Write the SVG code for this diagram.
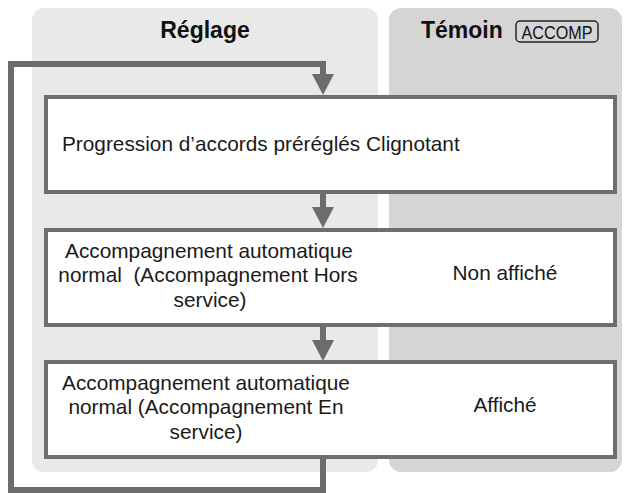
<svg xmlns="http://www.w3.org/2000/svg" width="626" height="493" viewBox="0 0 626 493">
<style>
.panelL{fill:#e9e9e9}
.panelR{fill:#d5d5d5}
.box{fill:#ffffff;stroke:#6e6e6e;stroke-width:4}
.t{font-family:"Liberation Sans",Arial,sans-serif;font-size:20.8px;fill:#1a1a1a}
.h{font-family:"Liberation Sans",Arial,sans-serif;font-size:23px;font-weight:bold;fill:#111}
.line{fill:none;stroke:#6c6c6c;stroke-width:6}
.head{fill:#6c6c6c}
</style>
<rect width="626" height="493" fill="#ffffff"/>
<g id="panel-reglage">
<rect class="panelL" x="32" y="8" width="346" height="464" rx="12"/>
<text class="h" x="205" y="38" text-anchor="middle">Réglage</text>
</g>
<g id="panel-temoin">
<rect class="panelR" x="389" y="8" width="233" height="464" rx="12"/>
<text class="h" x="421" y="38">Témoin</text>
<rect x="516" y="21" width="82" height="21" rx="4" fill="none" stroke="#222" stroke-width="1.5"/>
<text x="557" y="39" text-anchor="middle" font-family="Liberation Sans,Arial,sans-serif" font-size="19" fill="#111" textLength="71" lengthAdjust="spacingAndGlyphs">ACCOMP</text>
</g>
<g id="connectors">
<polyline class="line" points="323,457 323,490 11,490 11,64 323,64 323,76"/>
<polygon class="head" points="312,74 334,74 323,95"/>
<line class="line" x1="323" y1="193" x2="323" y2="209"/>
<polygon class="head" points="312,207 334,207 323,228"/>
<line class="line" x1="323" y1="326" x2="323" y2="342"/>
<polygon class="head" points="312,340 334,340 323,361"/>
</g>
<g id="node1">
<rect class="box" x="46" y="97" width="569" height="95"/>
<text class="t" x="62" y="151">Progression d’accords préréglés Clignotant</text>
</g>
<g id="node2">
<rect class="box" x="46" y="230" width="569" height="95"/>
<text class="t" x="209" y="258" text-anchor="middle">Accompagnement automatique</text>
<text class="t" x="208" y="282" text-anchor="middle" style="white-space:pre">normal  (Accompagnement Hors</text>
<text class="t" x="210" y="307" text-anchor="middle">service)</text>
<text class="t" x="505" y="280" text-anchor="middle">Non affiché</text>
</g>
<g id="node3">
<rect class="box" x="46" y="362" width="569" height="95"/>
<text class="t" x="206" y="390" text-anchor="middle">Accompagnement automatique</text>
<text class="t" x="206" y="414" text-anchor="middle">normal (Accompagnement En</text>
<text class="t" x="206" y="439" text-anchor="middle">service)</text>
<text class="t" x="505" y="412" text-anchor="middle">Affiché</text>
</g>
</svg>
